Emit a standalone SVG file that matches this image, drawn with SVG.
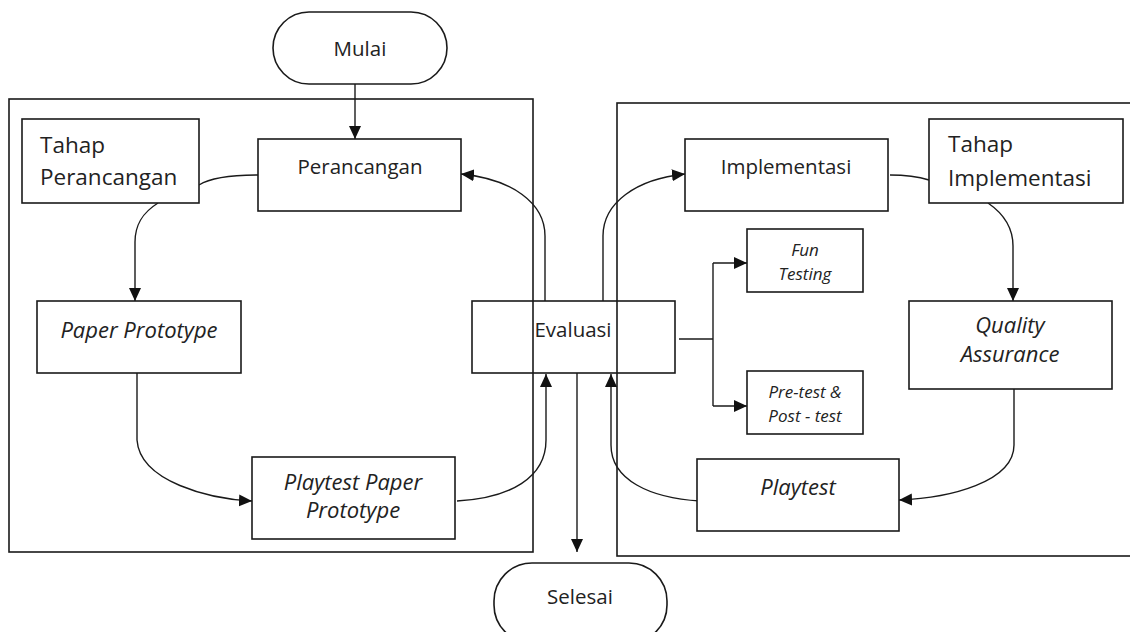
<svg xmlns="http://www.w3.org/2000/svg" width="1130" height="632" viewBox="0 0 1130 632">
<style>
.box{fill:#fff;stroke:#1a1a1a;stroke-width:1.6}
.cont{fill:none;stroke:#1a1a1a;stroke-width:1.6}
.t{font-family:"Open Sans","Noto Sans",sans-serif;font-size:20.5px;fill:#222}
.tl{font-family:"Open Sans","Noto Sans",sans-serif;font-size:22.5px;fill:#222}
.it{font-family:"Open Sans","Noto Sans",sans-serif;font-style:italic;font-size:22px;fill:#222}
.its{font-family:"Open Sans","Noto Sans",sans-serif;font-style:italic;font-size:17px;fill:#222}
.c{fill:none;stroke:#1a1a1a;stroke-width:1.4}
</style>
<defs>
<marker id="ah" markerUnits="userSpaceOnUse" markerWidth="13" markerHeight="13" refX="13" refY="6.5" orient="auto">
<path d="M0,0.5 L13,6.5 L0,12.5 z" fill="#111"/>
</marker>
</defs>
<rect width="1130" height="632" fill="#fff"/>
<g id="containers">
<rect class="cont" x="9" y="99" width="524" height="453"/>
<rect class="cont" x="617" y="103" width="530" height="453"/>
</g>
<g id="connectors">
<path class="c" d="M355,84 L355,139" marker-end="url(#ah)"/>
<path class="c" d="M258,175 C228,175 210,178 199,185"/>
<path class="c" d="M158,203 C142,213 135,225 135,242 L135,301" marker-end="url(#ah)"/>
<path class="c" d="M137,373 L137,440 C140,482 210,499 252,501" marker-end="url(#ah)"/>
<path class="c" d="M457,501 C510,498 546,478 546,440 L546,374" marker-end="url(#ah)"/>
<path class="c" d="M545,301 L545,236 C545,203 512,179 461,174" marker-end="url(#ah)"/>
<path class="c" d="M603,301 L603,236 C603,203 636,179 685,174" marker-end="url(#ah)"/>
<path class="c" d="M890,175 C906,175 916,176 929,180"/>
<path class="c" d="M988,203 C1004,214 1013,228 1013,246 L1013,301" marker-end="url(#ah)"/>
<path class="c" d="M1014,389 L1014,445 C1014,482 950,498 899,500" marker-end="url(#ah)"/>
<path class="c" d="M700,501 C650,498 611,480 611,445 L611,374" marker-end="url(#ah)"/>
<path class="c" d="M577,373 L577,552" marker-end="url(#ah)"/>
<path class="c" d="M679,339 L713,339"/>
<path class="c" d="M713,263 L713,406"/>
<path class="c" d="M713,263 L747,263" marker-end="url(#ah)"/>
<path class="c" d="M713,406 L747,406" marker-end="url(#ah)"/>
</g>
<g id="mulai">
<rect class="box" x="273" y="12" width="174" height="72" rx="36" ry="36"/>
<text class="t" x="360" y="56" text-anchor="middle">Mulai</text>
</g>
<g id="tahap-perancangan">
<rect class="box" x="22" y="119" width="177" height="84"/>
<text class="tl" x="40" y="153">Tahap</text>
<text class="tl" x="40" y="185">Perancangan</text>
</g>
<g id="perancangan">
<rect class="box" x="258" y="139" width="203" height="72"/>
<text class="t" x="360" y="174" text-anchor="middle">Perancangan</text>
</g>
<g id="paper-prototype">
<rect class="box" x="37" y="301" width="204" height="72"/>
<text class="it" x="139" y="338" text-anchor="middle">Paper Prototype</text>
</g>
<g id="playtest-paper-prototype">
<rect class="box" x="252" y="457" width="203" height="82"/>
<text class="it" x="353" y="490" text-anchor="middle">Playtest Paper</text>
<text class="it" x="353" y="518" text-anchor="middle">Prototype</text>
</g>
<g id="evaluasi">
<rect class="box" x="472" y="301" width="203" height="72" fill-opacity="0"/>
<text class="t" x="573" y="337" text-anchor="middle">Evaluasi</text>
</g>
<g id="implementasi">
<rect class="box" x="685" y="139" width="203" height="72"/>
<text class="t" x="786" y="174" text-anchor="middle">Implementasi</text>
</g>
<g id="tahap-implementasi">
<rect class="box" x="929" y="119" width="194" height="84"/>
<text class="tl" x="948" y="152">Tahap</text>
<text class="tl" x="948" y="186">Implementasi</text>
</g>
<g id="fun-testing">
<rect class="box" x="747" y="229" width="116" height="63"/>
<text class="its" x="805" y="256" text-anchor="middle">Fun</text>
<text class="its" x="805" y="280" text-anchor="middle">Testing</text>
</g>
<g id="pre-post-test">
<rect class="box" x="747" y="371" width="116" height="63"/>
<text class="its" x="805" y="398" text-anchor="middle">Pre-test &amp;</text>
<text class="its" x="805" y="422" text-anchor="middle">Post - test</text>
</g>
<g id="quality-assurance">
<rect class="box" x="909" y="301" width="203" height="88"/>
<text class="it" x="1010" y="333" text-anchor="middle">Quality</text>
<text class="it" x="1010" y="362" text-anchor="middle">Assurance</text>
</g>
<g id="playtest">
<rect class="box" x="697" y="459" width="202" height="72"/>
<text class="it" x="798" y="495" text-anchor="middle">Playtest</text>
</g>
<g id="selesai">
<rect class="box" x="494" y="563" width="173" height="80" rx="38" ry="38"/>
<text class="t" x="580" y="604" text-anchor="middle">Selesai</text>
</g>
</svg>
